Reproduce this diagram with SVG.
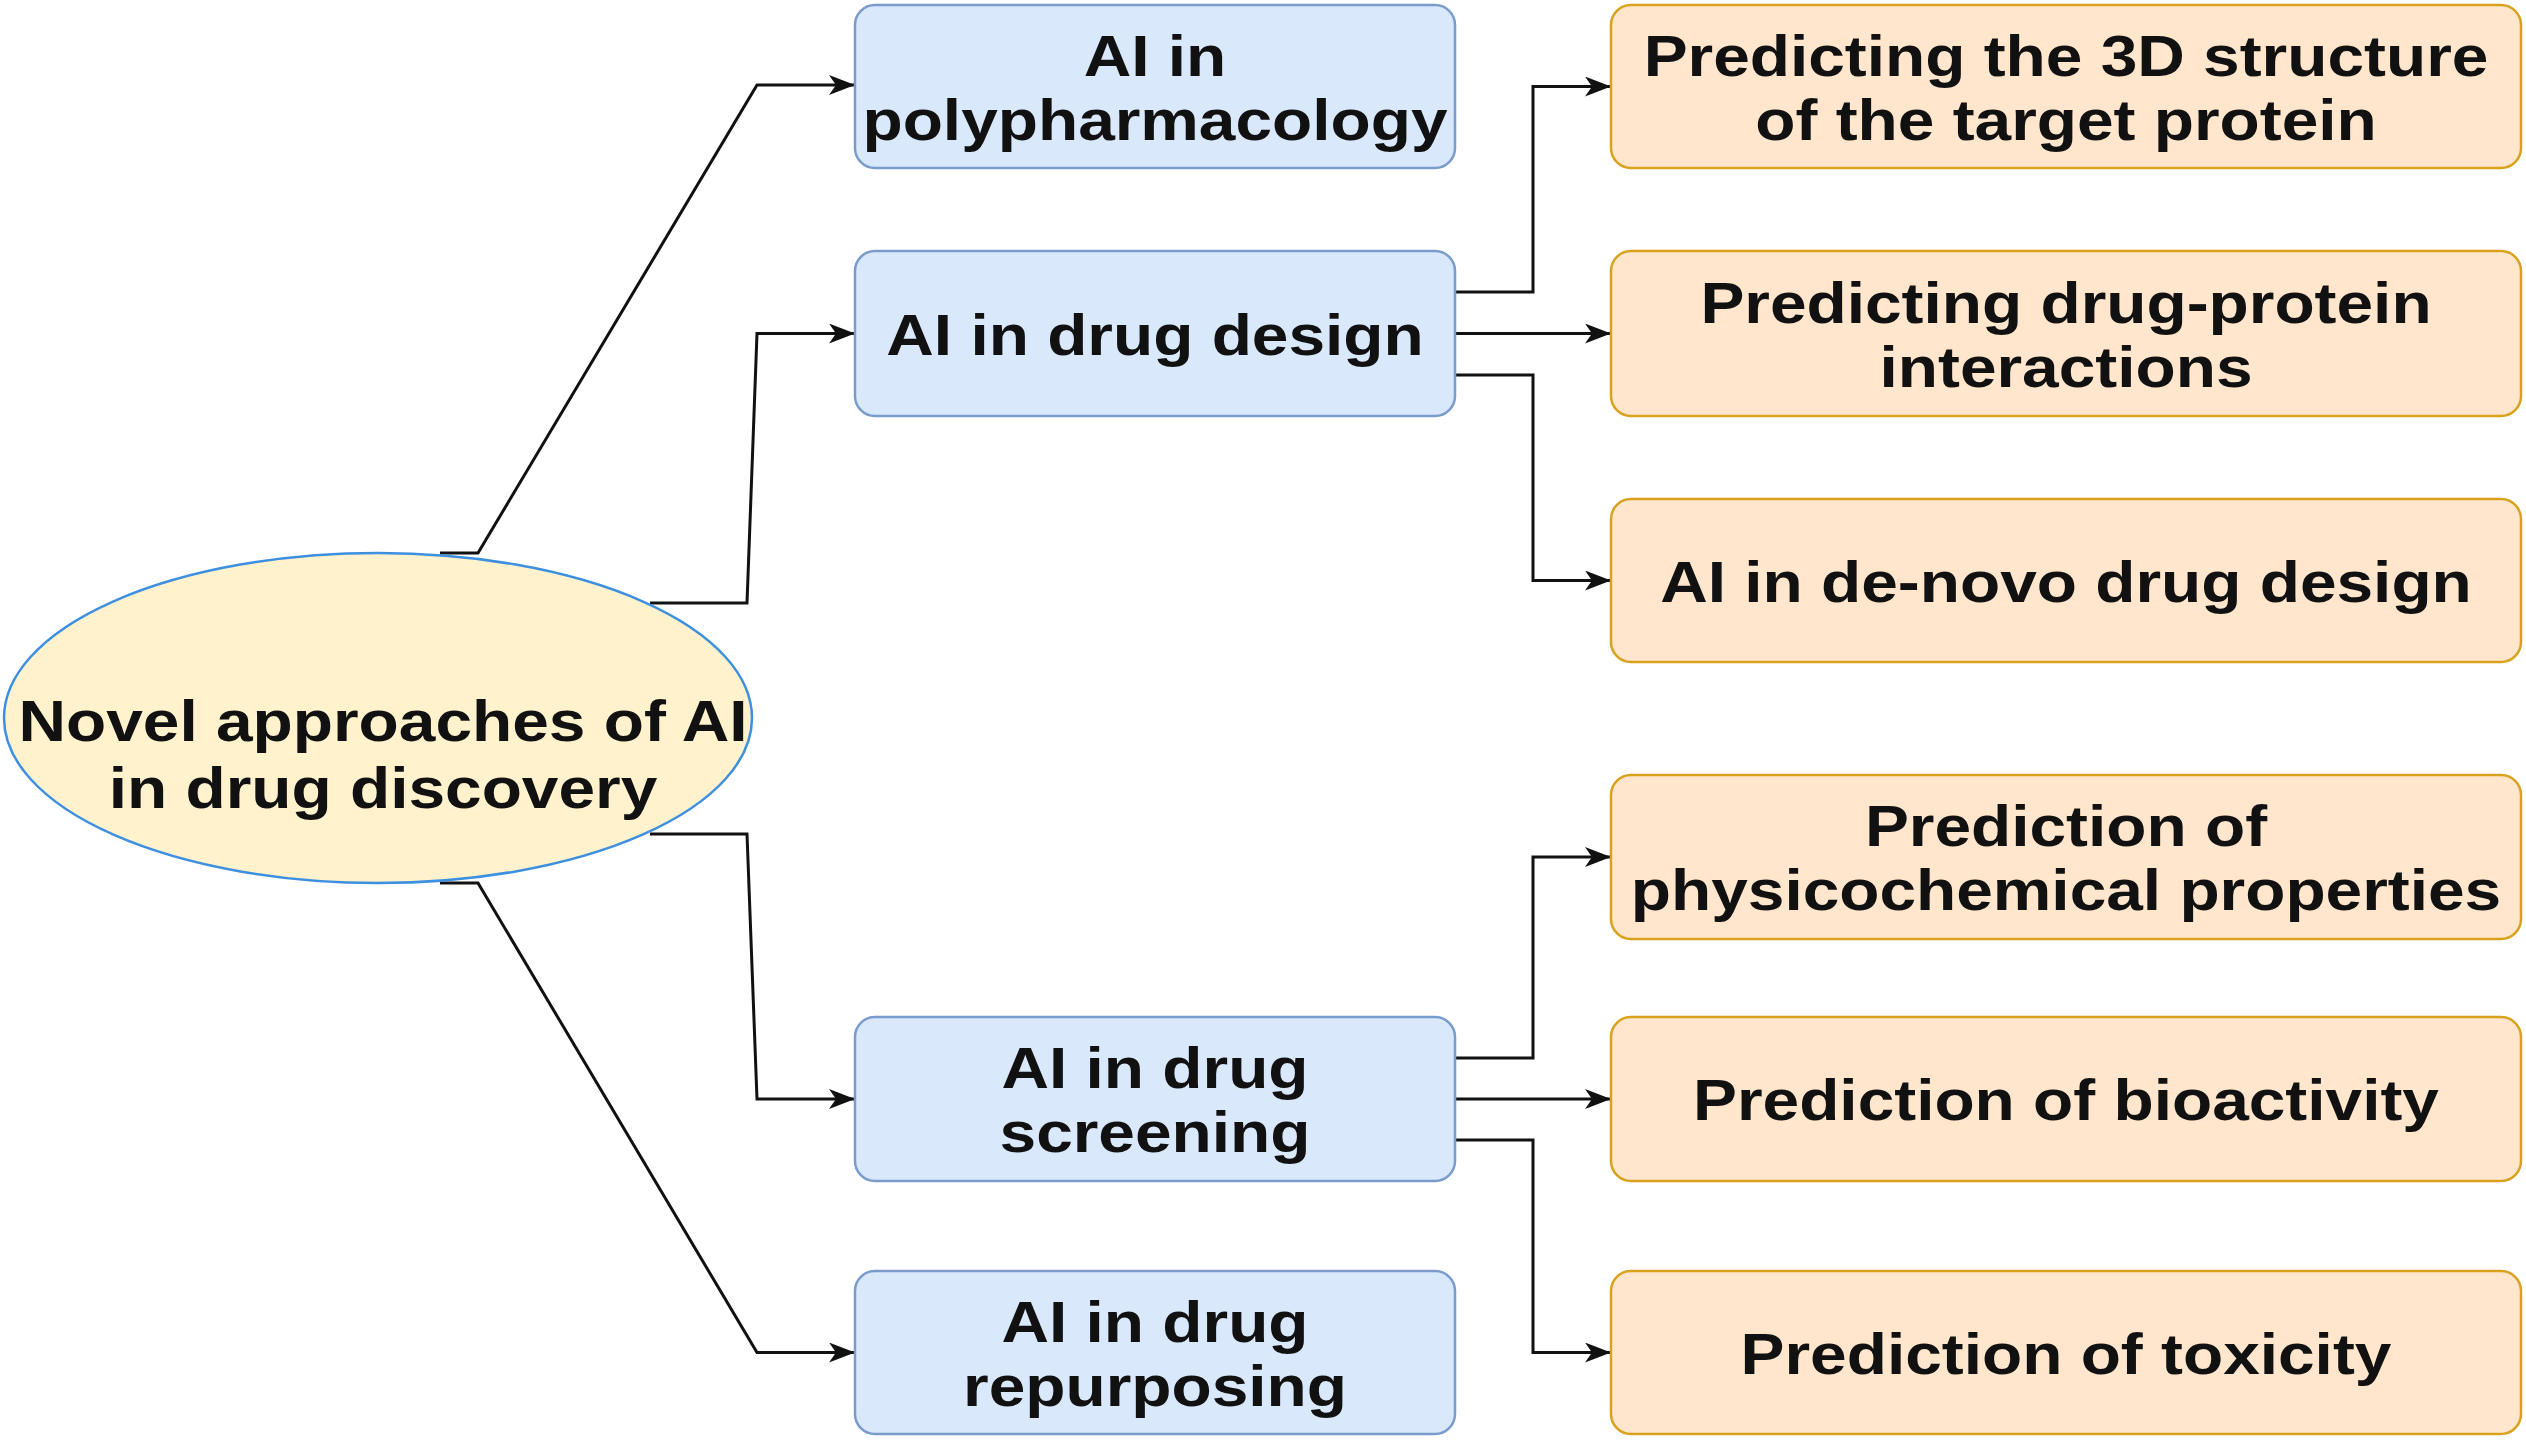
<svg xmlns="http://www.w3.org/2000/svg" width="2526" height="1440" viewBox="0 0 2526 1440">
<defs>
<style>
.blue{fill:#dae8fc;stroke:#7a9ccc;stroke-width:2.5}
.orange{fill:#ffe6cc;stroke:#d9a21c;stroke-width:2.5}
.ell{fill:#fff2cc;stroke:#3d8fe0;stroke-width:2.5}
.t{font-family:"Liberation Sans",Arial,sans-serif;font-weight:bold;font-size:58px;fill:#111;text-anchor:middle}
.c{fill:none;stroke:#111;stroke-width:3;stroke-linejoin:miter}
</style>
<marker id="arr" markerUnits="userSpaceOnUse" markerWidth="28" markerHeight="22" refX="26" refY="10" orient="auto">
<path d="M0,0 L26,10 L0,20 L7,10 Z" fill="#111"/>
</marker>
</defs>
<rect width="2526" height="1440" fill="#ffffff"/>

<g id="connectors">
<path class="c" marker-end="url(#arr)" d="M440,553 L478,553 L757,85 L855,85"/>
<path class="c" marker-end="url(#arr)" d="M650,603 L747,603 L757,333.5 L855,333.5"/>
<path class="c" marker-end="url(#arr)" d="M650,834 L747,834 L757,1099 L855,1099"/>
<path class="c" marker-end="url(#arr)" d="M440,883 L478,883 L757,1352.5 L855,1352.5"/>
<path class="c" marker-end="url(#arr)" d="M1455,292 L1533,292 L1533,86.5 L1611,86.5"/>
<path class="c" marker-end="url(#arr)" d="M1455,333.5 L1611,333.5"/>
<path class="c" marker-end="url(#arr)" d="M1455,375 L1533,375 L1533,580.5 L1611,580.5"/>
<path class="c" marker-end="url(#arr)" d="M1455,1058 L1533,1058 L1533,857 L1611,857"/>
<path class="c" marker-end="url(#arr)" d="M1455,1099 L1611,1099"/>
<path class="c" marker-end="url(#arr)" d="M1455,1140 L1533,1140 L1533,1352.5 L1611,1352.5"/>
</g>

<g id="root">
<ellipse class="ell" cx="378" cy="718" rx="374" ry="165"/>
<text class="t" transform="translate(383,741) scale(1.135,1)">Novel approaches of AI</text>
<text class="t" transform="translate(383,808) scale(1.135,1)">in drug discovery</text>
</g>

<g id="b1">
<rect class="blue" x="855" y="5" width="600" height="163" rx="20"/>
<text class="t" transform="translate(1155,75.5) scale(1.135,1)">AI in</text>
<text class="t" transform="translate(1155,139.5) scale(1.135,1)">polypharmacology</text>
</g>
<g id="b2">
<rect class="blue" x="855" y="251" width="600" height="165" rx="20"/>
<text class="t" transform="translate(1155,354.5) scale(1.135,1)">AI in drug design</text>
</g>
<g id="b3">
<rect class="blue" x="855" y="1017" width="600" height="164" rx="20"/>
<text class="t" transform="translate(1155,1088) scale(1.135,1)">AI in drug</text>
<text class="t" transform="translate(1155,1152) scale(1.135,1)">screening</text>
</g>
<g id="b4">
<rect class="blue" x="855" y="1271" width="600" height="163" rx="20"/>
<text class="t" transform="translate(1155,1341.5) scale(1.135,1)">AI in drug</text>
<text class="t" transform="translate(1155,1405.5) scale(1.135,1)">repurposing</text>
</g>

<g id="o1">
<rect class="orange" x="1611" y="5" width="910" height="163" rx="20"/>
<text class="t" transform="translate(2066,75.5) scale(1.135,1)">Predicting the 3D structure</text>
<text class="t" transform="translate(2066,139.5) scale(1.135,1)">of the target protein</text>
</g>
<g id="o2">
<rect class="orange" x="1611" y="251" width="910" height="165" rx="20"/>
<text class="t" transform="translate(2066,322.5) scale(1.135,1)">Predicting drug-protein</text>
<text class="t" transform="translate(2066,386.5) scale(1.135,1)">interactions</text>
</g>
<g id="o3">
<rect class="orange" x="1611" y="499" width="910" height="163" rx="20"/>
<text class="t" transform="translate(2066,601.5) scale(1.135,1)">AI in de-novo drug design</text>
</g>
<g id="o4">
<rect class="orange" x="1611" y="775" width="910" height="164" rx="20"/>
<text class="t" transform="translate(2066,846) scale(1.135,1)">Prediction of</text>
<text class="t" transform="translate(2066,910) scale(1.135,1)">physicochemical properties</text>
</g>
<g id="o5">
<rect class="orange" x="1611" y="1017" width="910" height="164" rx="20"/>
<text class="t" transform="translate(2066,1120) scale(1.135,1)">Prediction of bioactivity</text>
</g>
<g id="o6">
<rect class="orange" x="1611" y="1271" width="910" height="163" rx="20"/>
<text class="t" transform="translate(2066,1373.5) scale(1.135,1)">Prediction of toxicity</text>
</g>
</svg>
